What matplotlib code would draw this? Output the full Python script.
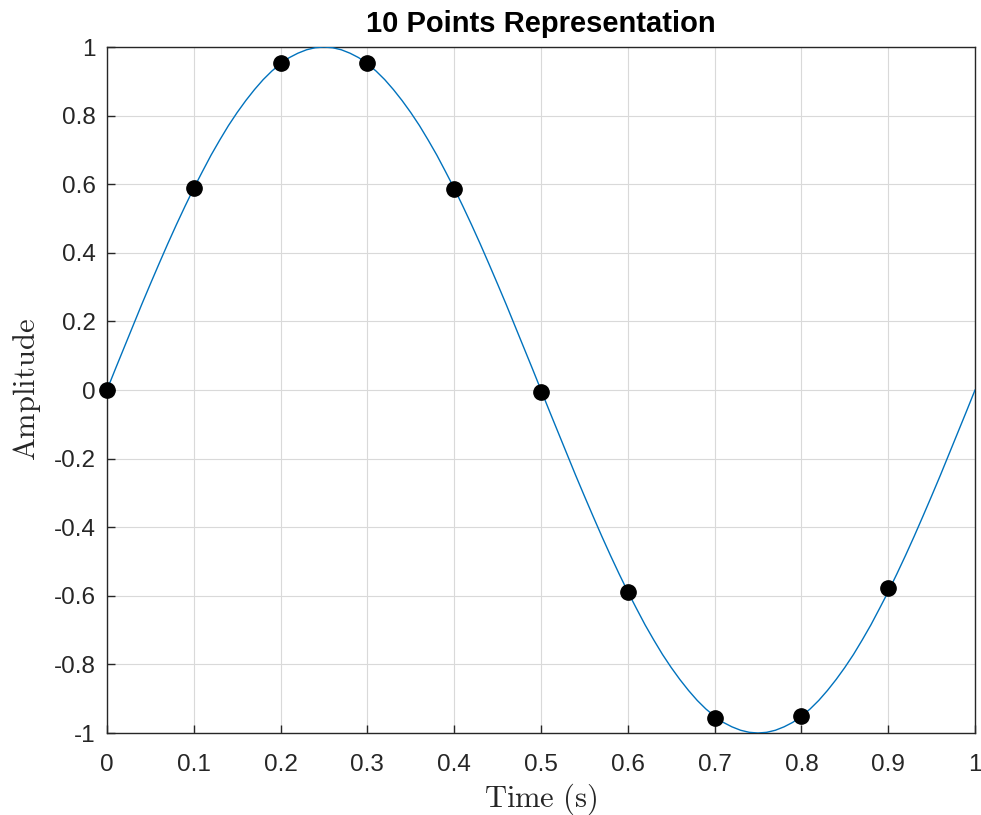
import matplotlib
matplotlib.use("Agg")
import matplotlib.pyplot as plt

# Continuous curve values (t step 0.01 s)
curve_t = [i / 100 for i in range(101)]
curve_y = [0.000, 0.063, 0.125, 0.187, 0.249, 0.309, 0.368, 0.426, 0.482, 0.536,
           0.588, 0.637, 0.685, 0.729, 0.771, 0.809, 0.844, 0.876, 0.905, 0.930,
           0.951, 0.969, 0.982, 0.992, 0.998, 1.000, 0.998, 0.992, 0.982, 0.969,
           0.951, 0.930, 0.905, 0.876, 0.844, 0.809, 0.771, 0.729, 0.685, 0.637,
           0.588, 0.536, 0.482, 0.426, 0.368, 0.309, 0.249, 0.187, 0.125, 0.063,
           0.000, -0.063, -0.125, -0.187, -0.249, -0.309, -0.368, -0.426, -0.482, -0.536,
           -0.588, -0.637, -0.685, -0.729, -0.771, -0.809, -0.844, -0.876, -0.905, -0.930,
           -0.951, -0.969, -0.982, -0.992, -0.998, -1.000, -0.998, -0.992, -0.982, -0.969,
           -0.951, -0.930, -0.905, -0.876, -0.844, -0.809, -0.771, -0.729, -0.685, -0.637,
           -0.588, -0.536, -0.482, -0.426, -0.368, -0.309, -0.249, -0.187, -0.125, -0.063,
           0.000]

# Sampled points
sample_t = [0.0, 0.1, 0.2, 0.3, 0.4, 0.5, 0.6, 0.7, 0.8, 0.9]
sample_y = [0.0, 0.59, 0.953, 0.953, 0.585, -0.005, -0.59, -0.955, -0.95, -0.578]

xticks = [0, 0.1, 0.2, 0.3, 0.4, 0.5, 0.6, 0.7, 0.8, 0.9, 1]
xticklabels = ["0", "0.1", "0.2", "0.3", "0.4", "0.5", "0.6", "0.7", "0.8", "0.9", "1"]
yticks = [-1, -0.8, -0.6, -0.4, -0.2, 0, 0.2, 0.4, 0.6, 0.8, 1]
yticklabels = ["-1", "-0.8", "-0.6", "-0.4", "-0.2", "0", "0.2", "0.4", "0.6", "0.8", "1"]

plt.rcParams['mathtext.fontset'] = 'cm'
plt.rcParams['font.family'] = ['Liberation Sans', 'DejaVu Sans']

fig = plt.figure(figsize=(9.81, 8.15), dpi=100)
ax = fig.add_axes([0.109, 0.1006, 0.8849, 0.8417])

ax.plot(curve_t, curve_y, color='#0072BD', lw=1.0, zorder=3)
ax.plot(sample_t, sample_y, 'o', color='black', ms=11, zorder=4, clip_on=False)

ax.set_xlim(0, 1)
ax.set_ylim(-1, 1)
ax.set_xticks(xticks)
ax.set_xticklabels(xticklabels)
ax.set_yticks(yticks)
ax.set_yticklabels(yticklabels)
ax.grid(True, color='#d9d9d9', lw=0.8)
ax.set_axisbelow(True)
ax.tick_params(direction='in', length=6, width=1.0, colors='#262626',
               labelsize=17.5, top=False, right=False)
ax.tick_params(axis='x', pad=15)
ax.tick_params(axis='y', pad=8)
for s in ax.spines.values():
    s.set_color('#262626')
    s.set_linewidth(1.0)

ax.set_title('10 Points Representation', fontsize=21, fontweight='bold', pad=11)
ax.set_xlabel(r'$\mathrm{Time\ (s)}$', fontsize=22, color='#262626', labelpad=4)
ax.set_ylabel(r'$\mathrm{Amplitude}$', fontsize=22, color='#262626', labelpad=8)

fig.savefig('out.png', dpi=100)
